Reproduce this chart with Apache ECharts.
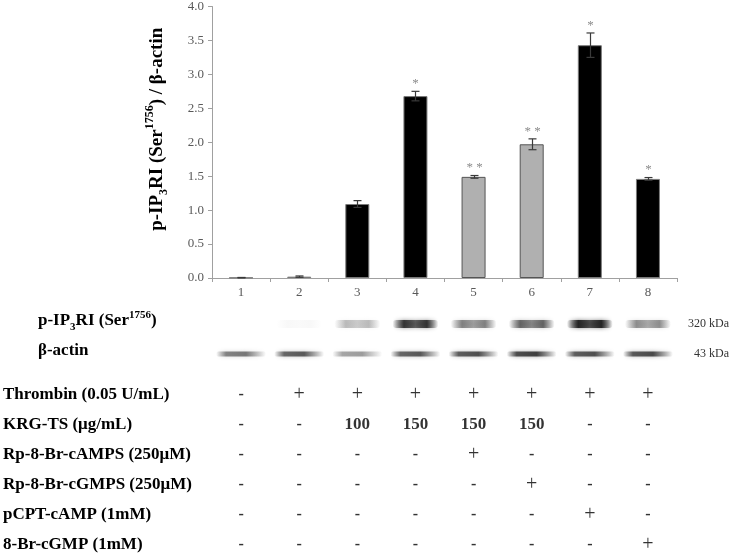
<!DOCTYPE html>
<html><head><meta charset="utf-8">
<script src="https://cdn.jsdelivr.net/npm/echarts@6/dist/echarts.min.js"></script>
<style>html,body{margin:0;padding:0;background:#fff}#c{width:733px;height:560px}</style>
</head><body><div id="c"></div>
<script>
// ---------- data ----------
const lanes = ['1', '2', '3', '4', '5', '6', '7', '8'];
const ratio = [0.005, 0.02, 1.09, 2.68, 1.49, 1.97, 3.43, 1.46];
const errors = [0.003, 0.01, 0.05, 0.07, 0.02, 0.08, 0.18, 0.02];
const marks = ['', '', '', '*', '* *', '* *', '*', '*'];
const laneGroup = ['thr', 'thr', 'thr', 'thr', 'inh', 'inh', 'thr', 'thr'];
const yMin = 0, yMax = 4, yStep = 0.5;

const blotRows = ['p-IP3RI (Ser1756)', 'β-actin'];
const blotSizes = ['320 kDa', '43 kDa'];
const pIP3RBand = [0.0, 0.03, 0.28, 0.85, 0.5, 0.62, 0.95, 0.45];
const actinBand = [0.55, 0.68, 0.4, 0.68, 0.72, 0.8, 0.72, 0.75];

const treatments = ['Thrombin (0.05 U/mL)', 'KRG-TS (μg/mL)', 'Rp-8-Br-cAMPS (250μM)',
  'Rp-8-Br-cGMPS (250μM)', 'pCPT-cAMP (1mM)', '8-Br-cGMP (1mM)'];
const thrombin = ['-', '+', '+', '+', '+', '+', '+', '+'];
const krgTS    = ['-', '-', '100', '150', '150', '150', '-', '-'];
const rpCAMPS  = ['-', '-', '-', '-', '+', '-', '-', '-'];
const rpCGMPS  = ['-', '-', '-', '-', '-', '+', '-', '-'];
const pcptCAMP = ['-', '-', '-', '-', '-', '-', '+', '-'];
const brCGMP   = ['-', '-', '-', '-', '-', '-', '-', '+'];
const tableRows = [thrombin, krgTS, rpCAMPS, rpCGMPS, pcptCAMP, brCGMP];

// ---------- styles ----------
const SERIF = 'Liberation Serif';
const groupStyle = {
  thr: { color: '#000000', borderColor: '#7a7a7a', borderWidth: 1 },
  inh: { color: '#b0b0b0', borderColor: '#555555', borderWidth: 1 }
};
function richSet(size, small, lh) {
  return {
    b: { fontFamily: SERIF, fontWeight: 'bold', fontSize: size, lineHeight: lh, color: '#000' },
    sub: { fontFamily: SERIF, fontWeight: 'bold', fontSize: small, lineHeight: small, verticalAlign: 'bottom', color: '#000' },
    sup: { fontFamily: SERIF, fontWeight: 'bold', fontSize: small, lineHeight: small, verticalAlign: 'top', color: '#000' }
  };
}
const richTitle = richSet(19, 12, 26);
const richRow = richSet(17, 11, 23);
function fmtLabel(s) {
  if (s.indexOf('IP3RI') >= 0) {
    return s.replace(/^(.*IP)3(RI \(Ser)1756(\).*)$/, '{b|$1}{sub|3}{b|$2}{sup|1756}{b|$3}');
  }
  return '{b|' + s + '}';
}

const chart = echarts.init(document.getElementById('c'), null, { renderer: 'canvas' });

const L = 212, R = 56;
const option = {
  animation: false,
  backgroundColor: '#fff',
  grid: [
    { left: L, right: R, top: 6, bottom: 282 },
    { left: L, right: R, top: 309, height: 60 },
    { left: L, right: R, top: 380, height: 184 }
  ],
  xAxis: [
    {
      gridIndex: 0, type: 'category', data: lanes, boundaryGap: true,
      axisLine: { lineStyle: { color: '#a0a0a0', width: 1 } },
      axisTick: { show: true, alignWithLabel: false, length: 4, lineStyle: { color: '#a0a0a0' } },
      axisLabel: { fontFamily: SERIF, fontSize: 13, color: '#595959', margin: 8 }
    },
    { gridIndex: 1, type: 'category', data: lanes, boundaryGap: true, show: false },
    { gridIndex: 2, type: 'category', data: lanes, boundaryGap: true, show: false }
  ],
  yAxis: [
    {
      gridIndex: 0, type: 'value', min: yMin, max: yMax, interval: yStep,
      name: fmtLabel('p-IP3RI (Ser1756) / β-actin'),
      nameLocation: 'middle', nameRotate: 90, nameGap: 42,
      nameTextStyle: { rich: richTitle, padding: [0, 0, 0, 26] },
      axisLine: { show: true, lineStyle: { color: '#a0a0a0', width: 1 } },
      axisTick: { show: true, length: 4, lineStyle: { color: '#a0a0a0' } },
      splitLine: { show: false },
      axisLabel: { fontFamily: SERIF, fontSize: 13, color: '#595959', margin: 8,
        formatter: v => v.toFixed(1) }
    },
    {
      gridIndex: 1, type: 'category', data: blotRows, inverse: true,
      axisLine: { show: false }, axisTick: { show: false },
      axisLabel: { align: 'left', margin: 174, formatter: v => fmtLabel(v), rich: richRow,
        padding: [0, 0, 6, 0] }
    },
    {
      gridIndex: 1, type: 'category', data: blotSizes, inverse: true, position: 'right',
      axisLine: { show: false }, axisTick: { show: false },
      axisLabel: { align: 'right', margin: 52, fontFamily: SERIF, fontSize: 12, color: '#333' }
    },
    {
      gridIndex: 2, type: 'category', data: treatments, inverse: true,
      axisLine: { show: false }, axisTick: { show: false },
      axisLabel: { align: 'left', margin: 209, fontFamily: SERIF, fontWeight: 'bold', fontSize: 17, color: '#000' }
    }
  ],
  series: [
    {
      type: 'bar', xAxisIndex: 0, yAxisIndex: 0, barWidth: 24,
      data: ratio.map((v, i) => ({ value: v, itemStyle: groupStyle[laneGroup[i]] }))
    },
    {
      type: 'custom', xAxisIndex: 0, yAxisIndex: 0, z: 5,
      data: ratio.map((v, i) => [i, v, errors[i]]),
      renderItem: function (params, api) {
        const i = api.value(0), v = api.value(1), e = api.value(2);
        const top = api.coord([i, v + e]);
        const bot = api.coord([i, Math.max(0, v - e)]);
        const cx = Math.round(top[0]) + 0.5;
        const st = { stroke: '#3a3a3a', lineWidth: 1.2 };
        const kids = [
          { type: 'line', shape: { x1: cx, y1: top[1], x2: cx, y2: bot[1] }, style: st },
          { type: 'line', shape: { x1: cx - 4, y1: top[1], x2: cx + 4, y2: top[1] }, style: st },
          { type: 'line', shape: { x1: cx - 4, y1: bot[1], x2: cx + 4, y2: bot[1] }, style: st }
        ];
        if (marks[i]) {
          kids.push({ type: 'text', style: { text: marks[i], x: cx, y: top[1] - 1,
            align: 'center', verticalAlign: 'bottom', fill: '#8c8c8c',
            font: '13px "Liberation Serif"' } });
        }
        return { type: 'group', children: kids };
      }
    },
    {
      type: 'custom', xAxisIndex: 1, yAxisIndex: 1,
      data: pIP3RBand.map((a, i) => [i, 0, a]).concat(actinBand.map((a, i) => [i, 1, a])),
      renderItem: function (params, api) {
        const i = api.value(0), row = api.value(1), a = api.value(2);
        const c = api.coord([i, row]);
        const w = row === 0 ? 46 : 50, h = row === 0 ? 8 : 5;
        const col = x => 'rgba(30,30,30,' + x + ')';
        const fill = row === 0 ? new echarts.graphic.LinearGradient(0, 0, 1, 0, [
          { offset: 0, color: col(0) },
          { offset: 0.25, color: col(a) },
          { offset: 0.5, color: col(a * 0.75) },
          { offset: 0.75, color: col(a) },
          { offset: 1, color: col(0) }
        ]) : new echarts.graphic.LinearGradient(0, 0, 1, 0, [
          { offset: 0, color: col(0) },
          { offset: 0.2, color: col(a * 0.9) },
          { offset: 0.6, color: col(a) },
          { offset: 1, color: col(0) }
        ]);
        return {
          type: 'rect',
          shape: { x: c[0] - w / 2, y: c[1] - h / 2, width: w, height: h, r: h / 2 },
          style: { fill: fill, shadowBlur: 4, shadowColor: col(a * 0.6) }
        };
      }
    },
    {
      type: 'scatter', xAxisIndex: 2, yAxisIndex: 3, symbolSize: 0,
      data: tableRows.flatMap((r, ri) => r.map((s, i) => [i, ri, s])),
      label: {
        show: true, position: 'inside',
        formatter: p => {
          const s = p.value[2];
          if (s === '+') return '{p|+}';
          if (s === '-') return '{m|-}';
          return '{n|' + s + '}';
        },
        rich: {
          p: { fontFamily: SERIF, fontSize: 20, color: '#000' },
          m: { fontFamily: SERIF, fontSize: 16, fontWeight: 'bold', color: '#000' },
          n: { fontFamily: SERIF, fontSize: 17, fontWeight: 'bold', color: '#000' }
        }
      }
    }
  ]
};
chart.setOption(option);
</script></body></html>
